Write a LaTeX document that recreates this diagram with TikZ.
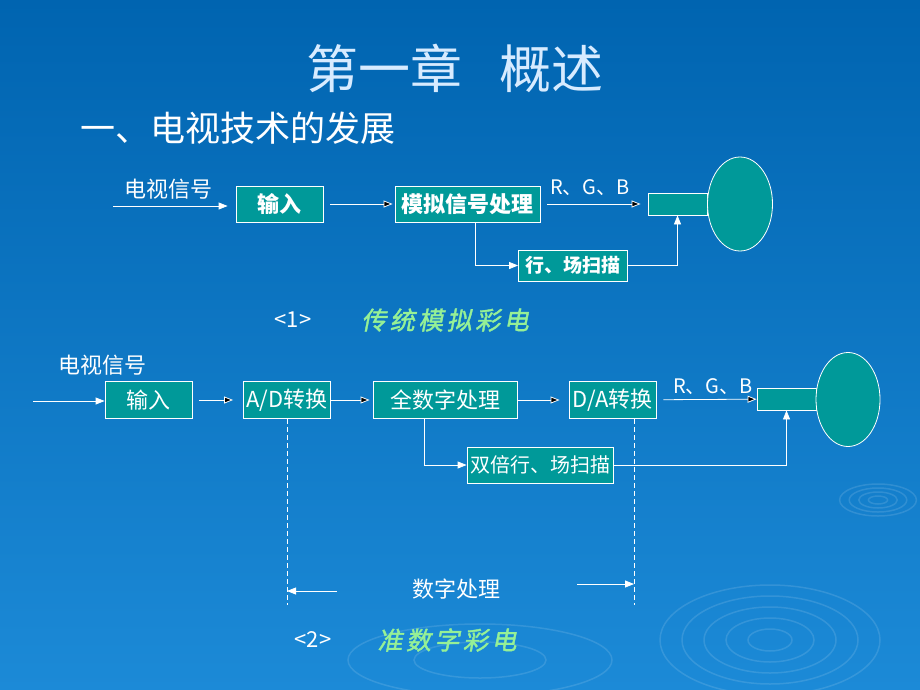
\documentclass[tikz,border=0pt]{standalone}
\usepackage{fontspec}
\usetikzlibrary{arrows.meta,shapes.geometric}
\newfontfamily\cjk{Noto Sans CJK SC}
\newfontfamily\cjkbrush{Noto Sans CJK SC}[FakeSlant=0.2,FakeBold=1.5,LetterSpace=14]
\definecolor{slide}{RGB}{0,100,176}
\definecolor{slidelow}{RGB}{28,138,215}
\definecolor{tube}{RGB}{0,153,153}
\definecolor{brush}{RGB}{150,240,150}
\definecolor{titlecol}{RGB}{215,235,255}

\begin{document}
\begin{tikzpicture}[x=1pt,y=1pt,
  box/.style={draw=white, fill=tube, line width=0.8pt, inner sep=0pt, text=white},
  lbl/.style={text=white, inner sep=0pt},
  wire/.style={draw=white, line width=0.8pt},
  feed/.style={wire, -{Triangle[length=9pt,width=7pt]}},
  ripple/.style={draw=white, opacity=0.12, line width=1.5pt}]

\useasboundingbox (0,0) rectangle (920,-690);
\shade[top color=slide, bottom color=slidelow] (0,0) rectangle (920,-690);

% ripples in the background
\foreach \r in {20,40,60,80,100} \draw[ripple] (770,-640) ellipse ({1.1*\r} and {0.55*\r});
\foreach \r in {8,16,24,32} \draw[ripple] (878,-500) ellipse ({1.2*\r} and {0.5*\r});
\foreach \r in {30,60} \draw[ripple] (480,-660) ellipse ({2.2*\r} and {0.6*\r});

% title
\node (title) at (455,-68) [lbl, text=titlecol] {\cjk\fontsize{52}{60}\selectfont 第一章\hspace{0.7em}概述};
\node (sub) at (80,-128) [lbl, anchor=west] {\cjk\fontsize{35}{40}\selectfont 一、电视技术的发展};

% <1> analog set
\node (t0) at (168,-189) [lbl] {\cjk\fontsize{22}{24}\selectfont 电视信号};
\coordinate (tin) at (113,-206);
\node (t1) at (279.5,-204) [box, minimum width=87pt, minimum height=36pt] {\cjk\bfseries\fontsize{22}{24}\selectfont 输入};
\node (t2) at (467.5,-204) [box, minimum width=145pt, minimum height=36pt] {\cjk\bfseries\fontsize{22}{24}\selectfont 模拟信号处理};
\node (t3) at (573,-265.5) [box, minimum width=109pt, minimum height=31pt] {\cjk\bfseries\fontsize{19}{21}\selectfont 行、场扫描};
\node (t4) at (677.5,-204) [box, minimum width=59pt, minimum height=22pt] {};
\node (t5) at (740,-204) [box, ellipse, minimum width=65pt, minimum height=94pt] {};
\node (trgb) at (590,-188) [lbl] {\cjk\fontsize{20}{22}\selectfont R、G、B};

\draw [feed, shorten >=8pt] (tin) -- (tin -| t1.west);
\path [feed, shorten <=7pt, shorten >=2pt] (t1) edge (t2);
\path [feed, shorten <=7pt, shorten >=7pt] (t2) edge (t4);
\draw [feed] ([xshift=8pt]t2.south) |- (t3.west);
\draw [feed] (t3.east) -| (t4.south);

\node (n1) at (293,-320) [lbl] {\cjk\fontsize{22}{24}\selectfont <1>};
\node (g1) at (445,-320) [lbl, text=brush] {\cjkbrush\fontsize{25}{28}\selectfont 传统模拟彩电};

% <2> digital set
\node (b0) at (102,-365) [lbl] {\cjk\fontsize{22}{24}\selectfont 电视信号};
\coordinate (bin) at (33,-401);
\node (b1) at (148.5,-400) [box, minimum width=87pt, minimum height=37pt] {\cjk\fontsize{22}{24}\selectfont 输入};
\node (b2) at (287,-400) [box, minimum width=87pt, minimum height=37pt] {\cjk\fontsize{22}{24}\selectfont A/D转换};
\node (b3) at (445,-400) [box, minimum width=144pt, minimum height=37pt] {\cjk\fontsize{22}{24}\selectfont 全数字处理};
\node (b4) at (612.5,-400) [box, minimum width=87pt, minimum height=37pt] {\cjk\fontsize{22}{24}\selectfont D/A转换};
\node (b5) at (786.5,-399) [box, minimum width=59pt, minimum height=22pt] {};
\node (b6) at (848,-399.5) [box, ellipse, minimum width=64pt, minimum height=94pt] {};
\node (b7) at (540,-465) [box, minimum width=146pt, minimum height=36pt] {\cjk\fontsize{20}{22}\selectfont 双倍行、场扫描};
\node (brgb) at (713,-387) [lbl] {\cjk\fontsize{20}{22}\selectfont R、G、B};

\draw [feed] (bin) -- (bin -| b1.west);
\path [feed, shorten <=7pt, shorten >=10pt] (b1) edge (b2);
\path [feed, shorten >=3pt] (b2) edge (b3);
\path [feed, shorten >=9pt] (b3) edge (b4);
\path [feed, shorten <=7pt] (b4) edge (b5);
\draw [feed] ([xshift=-21pt]b3.south) |- (b7.west);
\draw [feed] (b7.east) -| (b5.south);

% digital part marks
\coordinate (d1) at (287,-605);
\coordinate (d2) at (634,-605);
\draw [wire, dash pattern=on 5pt off 3pt] (b2.south) -- (d1);
\draw [wire, dash pattern=on 5pt off 3pt] ([xshift=21.5pt]b4.south) -- (d2);
\node (dp) at (456,-589) [lbl] {\cjk\fontsize{22}{24}\selectfont 数字处理};
\coordinate (a1) at (337,-591);
\coordinate (a2) at (577,-584);
\draw [feed] (a1) -- (a1 -| d1);
\draw [feed] (a2) -- (a2 -| d2);

\node (n2) at (313,-640) [lbl] {\cjk\fontsize{22}{24}\selectfont <2>};
\node (g2) at (447,-640) [lbl, text=brush] {\cjkbrush\fontsize{25}{28}\selectfont 准数字彩电};

\end{tikzpicture}
\end{document}
